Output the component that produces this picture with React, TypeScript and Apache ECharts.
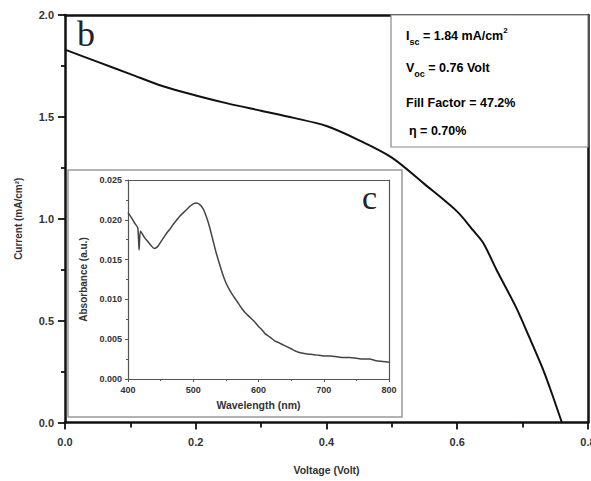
import React, { useEffect, useRef } from "react";
import * as echarts from "echarts";

// Main J-V curve
const voltage = [0, 0.05, 0.1, 0.15, 0.2, 0.25, 0.3, 0.35, 0.4, 0.45, 0.5, 0.55, 0.6, 0.625, 0.64, 0.66, 0.69, 0.71, 0.73, 0.745, 0.76];
const current = [1.83, 1.77, 1.71, 1.65, 1.605, 1.565, 1.53, 1.495, 1.455, 1.385, 1.3, 1.17, 1.035, 0.94, 0.88, 0.75, 0.565, 0.42, 0.27, 0.14, 0.0];

// Inset absorbance spectrum
const wavelength = [400, 405, 410, 415, 417, 419, 425, 430, 435, 440, 445, 450, 455, 460, 465, 470, 475, 480, 485, 490, 495, 500, 505, 510, 515, 520, 525, 530, 535, 540, 545, 550, 555, 560, 565, 570, 575, 580, 585, 590, 595, 600, 605, 610, 615, 620, 625, 630, 640, 650, 660, 670, 680, 690, 700, 710, 720, 730, 740, 750, 760, 770, 780, 790, 800];
const absorbance = [0.0209, 0.0203, 0.0196, 0.019, 0.0162, 0.0186, 0.0178, 0.0173, 0.0168, 0.0164, 0.0166, 0.0172, 0.0178, 0.0184, 0.0189, 0.0195, 0.02, 0.0205, 0.0209, 0.0213, 0.0217, 0.022, 0.0221, 0.0219, 0.0214, 0.0204, 0.0191, 0.0175, 0.0159, 0.0145, 0.0132, 0.0121, 0.0113, 0.0106, 0.01, 0.0094, 0.0088, 0.0083, 0.0079, 0.0075, 0.0071, 0.0066, 0.0062, 0.0057, 0.0054, 0.0051, 0.0048, 0.0046, 0.0042, 0.0038, 0.0034, 0.0032, 0.0031, 0.003, 0.0029, 0.0029, 0.0028, 0.0027, 0.0027, 0.0026, 0.0025, 0.0025, 0.0023, 0.0022, 0.0021];

const SANS = "'Liberation Sans', Arial, sans-serif";
const SERIF = "'Liberation Serif', 'Times New Roman', serif";

export default function App() {
  const ref = useRef<HTMLDivElement>(null);
  useEffect(() => {
    const chart = echarts.init(ref.current!, null, { renderer: "svg" });
    const mainLabel = { color: "#333", fontWeight: "bold", fontSize: 11, fontFamily: SANS };
    const insetLabel = { color: "#333", fontWeight: "bold", fontSize: 9, fontFamily: SANS };
    const rich = {
      b: { fontSize: 12.5, fontWeight: "bold", fontFamily: SANS, color: "#333", lineHeight: 20, verticalAlign: "middle" },
      s: { fontSize: 9, fontWeight: "bold", fontFamily: SANS, color: "#333", lineHeight: 9, verticalAlign: "bottom" },
      p: { fontSize: 8, fontWeight: "bold", fontFamily: SANS, color: "#333", lineHeight: 8, verticalAlign: "top" },
    };
    const frameX = (grid: number, min: number, max: number, color: string, width: number, z: number) => ({
      gridIndex: grid, type: "value", min, max, position: "top",
      axisLine: { show: true, onZero: false, lineStyle: { color, width } },
      axisTick: { show: false }, axisLabel: { show: false }, splitLine: { show: false }, z,
    });
    const frameY = (grid: number, min: number, max: number, color: string, width: number, z: number) => ({
      gridIndex: grid, type: "value", min, max, position: "right",
      axisLine: { show: true, onZero: false, lineStyle: { color, width } },
      axisTick: { show: false }, axisLabel: { show: false }, splitLine: { show: false }, z,
    });
    chart.setOption({
      animation: false,
      backgroundColor: "#fff",
      grid: [
        { left: 65, top: 15, width: 523, height: 407.5, outerBoundsMode: "none", containLabel: false },
        { left: 128, top: 180, width: 261, height: 199, outerBoundsMode: "none", containLabel: false },
      ],
      xAxis: [
        {
          gridIndex: 0, type: "value", min: 0, max: 0.8, interval: 0.2, position: "bottom",
          axisLine: { show: true, onZero: false, lineStyle: { color: "#111", width: 2.5 } },
          axisTick: { show: true, inside: false, length: 7, lineStyle: { color: "#111", width: 1.8 } },
          minorTick: { show: true, splitNumber: 2, length: 5, lineStyle: { color: "#111", width: 1.8 } },
          splitLine: { show: false },
          axisLabel: { ...mainLabel, margin: 14, formatter: (v: number) => v.toFixed(1) },
          name: "Voltage (Volt)", nameLocation: "middle", nameGap: 42,
          nameTextStyle: { color: "#333", fontWeight: "bold", fontSize: 10.5, fontFamily: SANS },
          z: 3,
        },
        frameX(0, 0, 0.8, "#111", 2.5, 3),
        {
          gridIndex: 1, type: "value", min: 400, max: 800, interval: 100, position: "bottom",
          axisLine: { show: true, onZero: false, lineStyle: { color: "#555", width: 1.2 } },
          axisTick: { show: true, length: 3, lineStyle: { color: "#555" } },
          minorTick: { show: true, splitNumber: 2, length: 2, lineStyle: { color: "#555" } },
          splitLine: { show: false },
          axisLabel: { ...insetLabel, margin: 6 },
          name: "Wavelength (nm)", nameLocation: "middle", nameGap: 20,
          nameTextStyle: { color: "#333", fontWeight: "bold", fontSize: 10.5, fontFamily: SANS },
          z: 10,
        },
        frameX(1, 400, 800, "#555", 1.2, 10),
      ],
      yAxis: [
        {
          gridIndex: 0, type: "value", min: 0, max: 2, interval: 0.5, position: "left",
          axisLine: { show: true, onZero: false, lineStyle: { color: "#111", width: 2.5 } },
          axisTick: { show: true, inside: false, length: 7, lineStyle: { color: "#111", width: 1.8 } },
          minorTick: { show: true, splitNumber: 2, length: 4, lineStyle: { color: "#111", width: 1.8 } },
          splitLine: { show: false },
          axisLabel: { ...mainLabel, margin: 11, formatter: (v: number) => v.toFixed(1) },
          name: "Current (mA/cm²)", nameLocation: "middle", nameGap: 42, nameRotate: 90,
          nameTextStyle: { color: "#333", fontWeight: "bold", fontSize: 10, fontFamily: SANS },
          z: 3,
        },
        frameY(0, 0, 2, "#111", 2.5, 3),
        {
          gridIndex: 1, type: "value", min: 0, max: 0.025, interval: 0.005, position: "left",
          axisLine: { show: true, onZero: false, lineStyle: { color: "#555", width: 1.2 } },
          axisTick: { show: true, length: 3, lineStyle: { color: "#555" } },
          minorTick: { show: true, splitNumber: 2, length: 2, lineStyle: { color: "#555" } },
          splitLine: { show: false },
          axisLabel: { ...insetLabel, margin: 6, formatter: (v: number) => v.toFixed(3) },
          name: "Absorbance (a.u.)", nameLocation: "middle", nameGap: 40, nameRotate: 90,
          nameTextStyle: { color: "#333", fontWeight: "bold", fontSize: 10, fontFamily: SANS },
          z: 10,
        },
        frameY(1, 0, 0.025, "#555", 1.2, 10),
      ],
      series: [
        {
          type: "line", xAxisIndex: 0, yAxisIndex: 0, smooth: 0.3, showSymbol: false,
          data: voltage.map((v, i) => [v, current[i]]),
          lineStyle: { color: "#111", width: 2 }, z: 2,
        },
        {
          type: "line", xAxisIndex: 2, yAxisIndex: 2, smooth: 0.2, showSymbol: false,
          data: wavelength.map((w, i) => [w, absorbance[i]]),
          lineStyle: { color: "#444", width: 1.5 }, z: 10,
        },
      ],
      graphic: [
        {
          type: "rect", z: 5,
          shape: { x: 68, y: 170, width: 334, height: 247 },
          style: { fill: "#fff", stroke: "#999", lineWidth: 1.5 },
        },
        {
          type: "rect", z: 5,
          shape: { x: 391, y: 15, width: 197, height: 132 },
          style: { fill: "#fff", stroke: "#888", lineWidth: 1.2 },
        },
        { type: "text", z: 6, x: 406, y: 36, style: { text: "{b|I}{s|sc}{b| = 1.84 mA/cm}{p|2}", rich, verticalAlign: "middle" } },
        { type: "text", z: 6, x: 406, y: 68, style: { text: "{b|V}{s|oc}{b| = 0.76 Volt}", rich, verticalAlign: "middle" } },
        { type: "text", z: 6, x: 406, y: 103, style: { text: "{b|Fill Factor = 47.2%}", rich, verticalAlign: "middle" } },
        { type: "text", z: 6, x: 409, y: 131, style: { text: "{b|η = 0.70%}", rich, verticalAlign: "middle" } },
        { type: "text", z: 6, x: 77, y: 34, style: { text: "b", fontFamily: SERIF, fontSize: 36, fill: "#222", verticalAlign: "middle" } },
        { type: "text", z: 11, x: 362, y: 197, style: { text: "c", fontFamily: SERIF, fontSize: 34, fill: "#222", verticalAlign: "middle" } },
      ],
    });
    return () => chart.dispose();
  }, []);
  return <div ref={ref} style={{ position: "fixed", left: 0, top: 0, width: 591, height: 481, background: "#fff" }} />;
}
